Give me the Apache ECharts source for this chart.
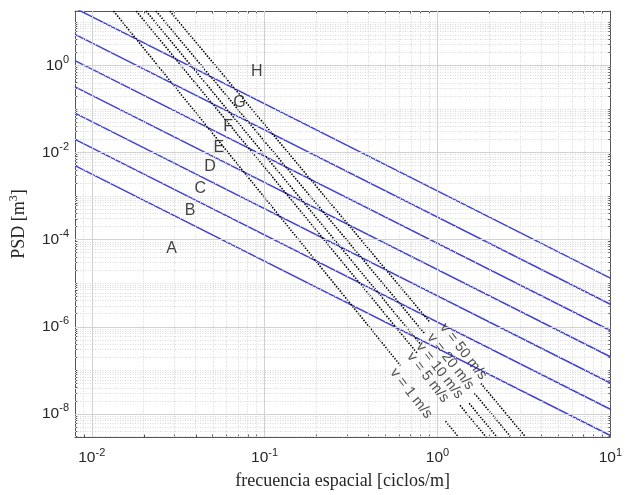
<!DOCTYPE html>
<html><head><meta charset="utf-8">
<script src="https://cdn.jsdelivr.net/npm/echarts@6/dist/echarts.min.js"></script>
<style>html,body{margin:0;padding:0;background:#fff}#c{width:625px;height:495px}</style>
</head><body><div id="c"></div>
<script>
// ---- axis ranges and tick labels (real units) ----
const xRange = [0.008, 10];
const yRange = [2.95e-9, 17.66];
const xMajorTicks = [0.01, 0.1, 1, 10];
const yMajorTicks = [1e-8, 1e-6, 1e-4, 1e-2, 1];

// ---- ISO road class boundary lines (blue), endpoints ----
const boundaryX = [0.008, 10];
const boundaryLeftY  = [5.0e-3, 2.0e-2, 8.0e-2, 0.32, 1.28, 5.12, 20.5];
const boundaryRightY = [3.2e-9, 1.28e-8, 5.12e-8, 2.05e-7, 8.19e-7, 3.28e-6, 1.31e-5];

// ---- road class letters ----
const classNames  = ['A', 'B', 'C', 'D', 'E', 'F', 'G', 'H'];
const classLabelX = [0.0290, 0.0370, 0.0424, 0.0483, 0.0544, 0.0615, 0.0715, 0.0901];
const classLabelY = [6.07e-5, 4.70e-4, 1.52e-3, 4.83e-3, 1.31e-2, 3.86e-2, 0.139, 0.730];

// ---- speed lines (black dotted) ----
const speedNames   = ['v = 1 m/s', 'v = 5 m/s', 'v = 10 m/s', 'v = 20 m/s', 'v = 50 m/s'];
const speedTopX    = [0.01337, 0.01808, 0.02063, 0.02353, 0.02829];
const speedTopY    = 17.66;
const speedBottomX = [1.322, 1.911, 2.209, 2.656, 3.236];
const speedBottomY = 2.95e-9;
const speedGapStartX = [0.611, 0.767, 0.793, 0.845, 0.899];
const speedGapStartY = [1.29e-7, 2.42e-7, 4.08e-7, 6.90e-7, 1.30e-6];
const speedGapEndX   = [1.114, 1.350, 1.526, 1.636, 1.782];
const speedGapEndY   = [6.82e-9, 1.58e-8, 1.75e-8, 2.96e-8, 5.01e-8];
const speedLabelX = [0.703, 0.879, 1.029, 1.190, 1.412];
const speedLabelY = [2.96e-8, 6.86e-8, 9.91e-8, 1.59e-7, 2.69e-7];

// ---- helpers ----
const L = v => Math.log10(v);
function minorList(lo, hi) {
  const out = [];
  for (let n = -10; n <= 2; n++) {
    for (let k = 1; k <= 9; k++) {
      const v = k * Math.pow(10, n);
      if (v >= lo * 0.9999 && v <= hi * 1.0001) out.push(L(v));
    }
  }
  return out;
}
const xMajorL = xMajorTicks.map(L);
const yMajorL = yMajorTicks.map(L);
const near = (a, list) => list.some(b => Math.abs(a - b) < 1e-6);
const xMinorL = minorList(xRange[0], xRange[1]).filter(v => !near(v, xMajorL));
const yMinorL = minorList(yRange[0], yRange[1]).filter(v => !near(v, yMajorL));

const axisCol = '#555555';
const labFmt = v => '{b|10}{s|' + Math.round(v) + '}';
const labRich = {
  b: {fontFamily: 'Liberation Sans', fontSize: 15.5, color: '#262626'},
  s: {fontFamily: 'Liberation Sans', fontSize: 11, color: '#262626', padding: [0, 0, 11, 0]}
};

function mkAxis(kind, pos, ticks, len, showLine, extra) {
  const r = kind === 'x' ? xRange : yRange;
  return Object.assign({
    type: 'value', min: L(r[0]), max: L(r[1]), position: pos,
    axisLine: {show: showLine, onZero: false, lineStyle: {color: axisCol, width: 1}},
    axisTick: {show: true, inside: true, length: len, customValues: ticks,
               lineStyle: {color: axisCol, width: 1}},
    axisLabel: {show: false},
    splitLine: {show: false}
  }, extra || {});
}

const xAxes = [
  mkAxis('x', 'bottom', xMajorL, 5, true, {
    axisLabel: {show: true, customValues: xMajorL, formatter: labFmt, rich: labRich, margin: 10},
    name: 'frecuencia espacial [ciclos/m]', nameLocation: 'middle', nameGap: 35,
    nameTextStyle: {fontFamily: 'Liberation Serif', fontSize: 18, color: '#262626'}
  }),
  mkAxis('x', 'top', xMajorL, 5, true),
  mkAxis('x', 'bottom', xMinorL, 2.5, false),
  mkAxis('x', 'top', xMinorL, 2.5, false)
];
const yAxes = [
  mkAxis('y', 'left', yMajorL, 5, true, {
    axisLabel: {show: true, customValues: yMajorL, formatter: labFmt, rich: labRich, margin: 6},
    name: '{n|PSD [m}{s|3}{n|]}', nameLocation: 'middle', nameGap: 44,
    nameTextStyle: {rich: {
      n: {fontFamily: 'Liberation Serif', fontSize: 18, color: '#262626'},
      s: {fontFamily: 'Liberation Serif', fontSize: 12, color: '#262626', padding: [0, 0, 11, 0]}
    }}
  }),
  mkAxis('y', 'right', yMajorL, 5, true),
  mkAxis('y', 'left', yMinorL, 2.5, false),
  mkAxis('y', 'right', yMinorL, 2.5, false)
];

// ---- grid lines via markLine ----
const majorStyle = {color: '#d2d2d2', width: 1, type: 'solid'};
const minorStyle = {color: '#d9d9d9', width: 1, type: [1, 1.5]};
const gridLines = [];
xMinorL.forEach(v => gridLines.push({xAxis: v, lineStyle: minorStyle}));
yMinorL.forEach(v => gridLines.push({yAxis: v, lineStyle: minorStyle}));
xMajorL.filter(v => v < L(xRange[1]) - 1e-6).forEach(v => gridLines.push({xAxis: v, lineStyle: majorStyle}));
yMajorL.forEach(v => gridLines.push({yAxis: v, lineStyle: majorStyle}));

const series = [{
  type: 'line', data: [], silent: true, z: 1,
  markLine: {silent: true, symbol: 'none', animation: false, label: {show: false},
             data: gridLines}
}];

boundaryLeftY.forEach((ly, i) => {
  series.push({
    type: 'line', z: 3, symbol: 'none', silent: true, clip: true,
    lineStyle: {color: '#4242d4', width: 1.5},
    data: [[L(boundaryX[0]), L(ly)], [L(boundaryX[1]), L(boundaryRightY[i])]]
  });
});

const dotStyle = {color: '#000', width: 1.6, type: [1.5, 1.4]};
speedNames.forEach((nm, i) => {
  series.push({
    type: 'line', z: 4, symbol: 'none', silent: true, clip: true, lineStyle: dotStyle,
    data: [[L(speedTopX[i]), L(speedTopY)], [L(speedGapStartX[i]), L(speedGapStartY[i])]]
  });
  series.push({
    type: 'line', z: 4, symbol: 'none', silent: true, clip: true, lineStyle: dotStyle,
    data: [[L(speedGapEndX[i]), L(speedGapEndY[i])], [L(speedBottomX[i]), L(speedBottomY)]]
  });
});

series.push({
  type: 'scatter', z: 5, symbolSize: 0, silent: true,
  data: speedNames.map((nm, i) => ({name: nm, value: [L(speedLabelX[i]), L(speedLabelY[i])]})),
  label: {show: true, position: 'inside', formatter: p => p.name, rotate: -52,
          fontFamily: 'Liberation Sans', fontSize: 14.5, color: '#262626'}
});
series.push({
  type: 'scatter', z: 5, symbolSize: 0, silent: true,
  data: classNames.map((nm, i) => ({name: nm, value: [L(classLabelX[i]), L(classLabelY[i])]})),
  label: {show: true, position: 'inside', formatter: p => p.name,
          fontFamily: 'Liberation Sans', fontSize: 16, color: '#111'}
});

const chart = echarts.init(document.getElementById('c'), null, {renderer: 'canvas'});
chart.setOption({
  animation: false,
  backgroundColor: '#fff',
  grid: {left: 71, right: 12, top: 11, bottom: 55, containLabel: false},
  xAxis: xAxes,
  yAxis: yAxes,
  series: series
});
</script></body></html>
